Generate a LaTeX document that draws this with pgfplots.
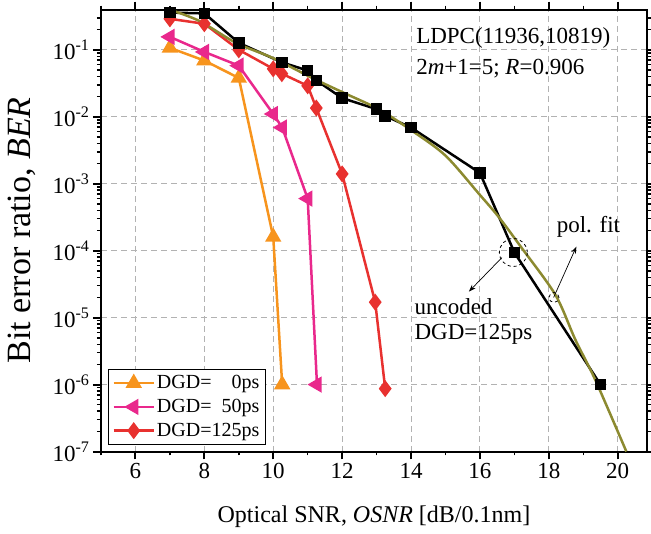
\documentclass[border=0pt]{standalone}
\usepackage{pgfplots}
\pgfplotsset{compat=1.18}
\usepackage{fontspec}
\setmainfont{Liberation Serif}
\usetikzlibrary{arrows.meta}
\definecolor{corange}{RGB}{247,148,29}
\definecolor{cpink}{RGB}{233,40,140}
\definecolor{cred}{RGB}{232,49,47}
\definecolor{colive}{RGB}{140,138,48}
\begin{document}
\begin{tikzpicture}
\begin{axis}[
  scale only axis, width=546pt, height=442pt,
  xmin=5, xmax=20.85, ymode=log, ymin=1e-7, ymax=0.4,
  xtick={6,8,...,20}, minor xtick={5,7,...,21},
  ytick={1e-7,1e-6,1e-5,1e-4,1e-3,1e-2,1e-1},
  yticklabels={10\textsuperscript{-7},10\textsuperscript{-6},10\textsuperscript{-5},10\textsuperscript{-4},10\textsuperscript{-3},10\textsuperscript{-2},10\textsuperscript{-1}},
  minor ytick={2e-7,3e-7,4e-7,5e-7,6e-7,7e-7,8e-7,9e-7,
    2e-6,3e-6,4e-6,5e-6,6e-6,7e-6,8e-6,9e-6,
    2e-5,3e-5,4e-5,5e-5,6e-5,7e-5,8e-5,9e-5,
    2e-4,3e-4,4e-4,5e-4,6e-4,7e-4,8e-4,9e-4,
    2e-3,3e-3,4e-3,5e-3,6e-3,7e-3,8e-3,9e-3,
    2e-2,3e-2,4e-2,5e-2,6e-2,7e-2,8e-2,9e-2,
    2e-1,3e-1},
  /pgf/number format/assume math mode=true,
  tick align=outside,
  major tick length=8pt, minor tick length=4pt,
  every major tick/.append style={black, line width=2pt},
  every minor tick/.append style={black, line width=1.5pt},
  axis line style={line width=2pt},
  grid=major,
  major grid style={dash pattern=on 6pt off 4pt, black!30, line width=0.9pt},
  tick label style={font=\fontsize{23}{27}\selectfont},
  xlabel={Optical SNR, \textit{OSNR} [dB/0.1nm]},
  ylabel={Bit error ratio, \textit{BER}},
  every axis x label/.style={at={(axis description cs:0.5,-0.147)}, anchor=center, font=\fontsize{24}{28}\selectfont},
  every axis y label/.style={at={(axis description cs:-0.145,0.5)}, rotate=90, anchor=center, font=\fontsize{34}{40}\selectfont},
  legend style={at={(axis description cs:0.013,0.016)}, anchor=south west, draw=black, line width=0.8pt,
    font=\fontsize{20}{24}\selectfont, row sep=5pt, inner sep=4pt},
  legend cell align=left,
  legend image code/.code={\draw[mark repeat=2,mark phase=2] plot coordinates {(0pt,0pt) (20pt,0pt) (40pt,0pt)};},
]
\addplot[corange, line width=2.5pt, mark=triangle*, mark size=7pt, mark options={solid}] coordinates {
  (7,0.107) (8,0.069) (9,0.038) (10,1.6e-4) (10.26,1e-6)};
\addlegendentry{DGD=\phantom{12}0ps}
\addplot[cpink, line width=2.5pt, mark=triangle*, mark size=7pt, mark options={solid, rotate=90}] coordinates {
  (7,0.156) (8,0.093) (9,0.058) (10,0.011) (10.26,0.0069) (11,6.0e-4) (11.27,1e-6)};
\addlegendentry{DGD=\phantom{1}50ps}
\addplot[cred, line width=2.5pt, mark=diamond*, mark size=6.5pt, mark options={solid}] coordinates {
  (7,0.29) (8,0.245) (9,0.10) (10,0.052) (10.25,0.044) (11,0.029) (11.25,0.0135) (12,0.0014) (12.96,1.7e-5) (13.25,8.7e-7)};
\addlegendentry{DGD=125ps}
\addplot[black, line width=2.5pt, mark=square*, mark size=4.5pt, forget plot] coordinates {
  (7,0.36) (8,0.35) (9,0.127) (10.25,0.065) (11,0.049) (11.25,0.035) (12,0.019) (13,0.013) (13.25,0.0103) (14,0.0069) (16,0.00145) (17,9.4e-5) (19.5,1e-6)};
\addplot[colive, line width=2.5pt, smooth, forget plot] coordinates {
  (7.0,0.398) (7.86,0.269) (8.93,0.126) (9.98,0.0759) (11.13,0.038) (12.12,0.0219) (13.07,0.0129) (14.03,0.00617) (15.0,0.00263) (15.97,7.08e-4) (16.55,3.16e-4) (17.2,1.12e-4) (18.19,2.19e-5) (18.77,4.68e-6) (19.35,1.17e-6) (20.25,1e-7)};
\node[anchor=west, font=\fontsize{23}{27}\selectfont] at (axis cs:14.05,0.151) {LDPC(11936,10819)};
\node[anchor=west, font=\fontsize{23}{27}\selectfont] at (axis cs:14.05,0.052) {2\textit{m}+1=5; \textit{R}=0.906};
\node[font=\fontsize{23}{27}\selectfont] at (axis cs:19.15,2.3e-4) {pol. fit};
\node[anchor=west, font=\fontsize{23}{27}\selectfont] at (axis cs:14.0,1.45e-5) {uncoded};
\node[anchor=west, font=\fontsize{23}{27}\selectfont] at (axis cs:14.0,5.6e-6) {DGD=125ps};
\draw[-{Stealth[length=7pt,width=5pt]}, line width=0.7pt] (axis cs:16.64,7.9e-5) -- (axis cs:15.68,2.45e-5);
\draw[-{Stealth[length=7pt,width=5pt]}, line width=0.7pt] (axis cs:18.14,2.0e-5) -- (axis cs:18.80,1.15e-4);
\draw[dashed, line width=0.8pt] (axis cs:16.97,9.4e-5) circle[radius=14pt];
\draw[dashed, line width=0.8pt] (axis cs:18.15,2.0e-5) circle[radius=5pt];
\end{axis}
\pgfresetboundingbox
\path (current axis.south west) ++(-101pt,-82pt) coordinate (bl);
\path (current axis.north east) ++(4pt,9.5pt) coordinate (tr);
\path (bl) rectangle (tr);
\end{tikzpicture}
\end{document}
